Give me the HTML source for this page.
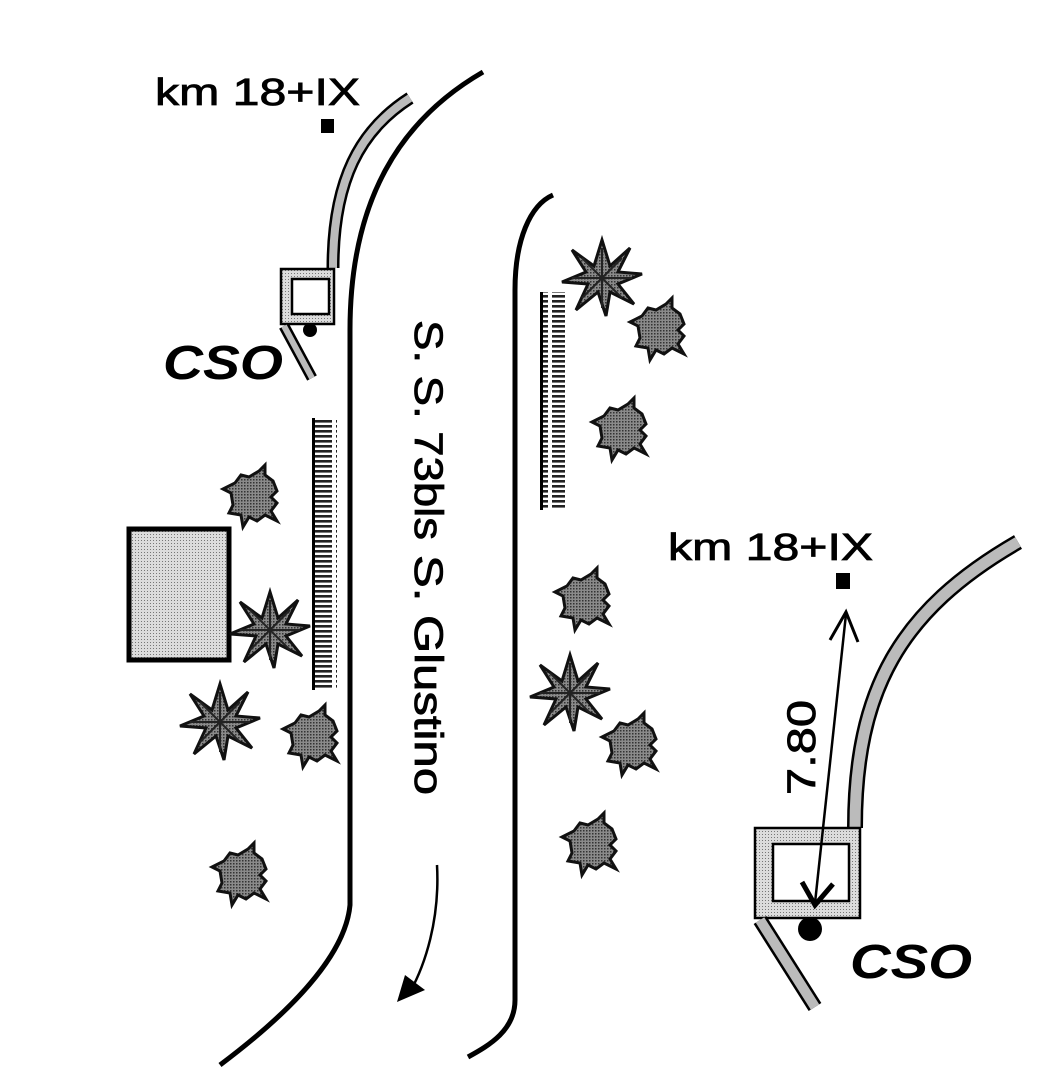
<!DOCTYPE html>
<html><head><meta charset="utf-8"><style>
html,body{margin:0;padding:0;background:#fff;}
svg{display:block;}
text{font-family:"Liberation Sans",sans-serif;}
</style></head><body>
<svg width="1060" height="1068" viewBox="0 0 1060 1068" xmlns="http://www.w3.org/2000/svg">
<defs>
<pattern id="dots" width="3" height="3" patternUnits="userSpaceOnUse"><rect width="3" height="3" fill="#dcdcdc"/><rect width="1" height="1" fill="#777"/></pattern>
<pattern id="dk" width="3" height="3" patternUnits="userSpaceOnUse"><rect width="3" height="3" fill="#8a8a8a"/><rect width="1.5" height="1.5" fill="#333"/></pattern>
<pattern id="fence" width="24" height="5" patternUnits="userSpaceOnUse"><rect width="24" height="5" fill="#fff"/><rect x="0" y="0" width="20" height="2.6" fill="#222"/></pattern>
<g id="shrub"><path d="M-22,-4 L-30,-8 L-18,-14 L-12,-22 L-4,-20 L6,-26 L12,-32 L12,-22 L20,-16 L24,-6 L18,0 L24,6 L18,14 L24,24 L12,18 L4,24 L-4,20 L-10,30 L-12,18 L-24,16 L-20,8 Z" fill="url(#dk)" stroke="#111" stroke-width="3"/></g>
<g id="palm"><path d="M0,-38 L8,-12 L28,-30 L16,-6 L40,-4 L16,6 L32,26 L8,14 L4,38 L-4,14 L-26,32 L-14,6 L-40,4 L-16,-6 L-30,-28 L-8,-12 Z" fill="url(#dk)" stroke="#111" stroke-width="3"/><path d="M0,-30 L0,30 M-30,0 L30,0 M-20,-20 L20,20 M20,-20 L-20,20" stroke="#222" stroke-width="2"/></g>
</defs>

<path d="M483,72 C400,120 350,200 350,330 L350,905 C345,960 280,1020 220,1065" fill="none" stroke="#000" stroke-width="5"/>
<path d="M553,195 C530,205 515,240 515,290 L515,1000 C515,1030 490,1045 468,1057" fill="none" stroke="#000" stroke-width="5"/>

<text transform="translate(415,320) rotate(90)" font-size="40" fill="#000" stroke="#000" stroke-width="0.8" textLength="220" lengthAdjust="spacingAndGlyphs">S. S. 73bls</text>
<text transform="translate(415,555) rotate(90)" font-size="40" fill="#000" stroke="#000" stroke-width="0.8" textLength="240" lengthAdjust="spacingAndGlyphs">S. Glustino</text>
<path d="M437,865 C440,920 425,965 410,992" fill="none" stroke="#000" stroke-width="2.5"/>
<path d="M397,1002 L425,990 L405,975 Z" fill="#000"/>

<text x="155" y="105" font-size="38" fill="#000" stroke="#000" stroke-width="0.8" textLength="205" lengthAdjust="spacingAndGlyphs">km 18+IX</text>
<rect x="321" y="119" width="13" height="14" fill="#000"/>
<path d="M410,98 C360,130 333,180 333,268" fill="none" stroke="#000" stroke-width="13"/>
<path d="M410,98 C360,130 333,180 333,268" fill="none" stroke="#bbb" stroke-width="8"/>
<rect x="281" y="269" width="53" height="55" fill="url(#dots)" stroke="#000" stroke-width="2.5"/>
<rect x="292" y="279" width="37" height="35" fill="#fff" stroke="#000" stroke-width="2.5"/>
<path d="M284,326 L312,378" stroke="#000" stroke-width="11"/>
<path d="M284,326 L312,378" stroke="#bbb" stroke-width="6"/>
<circle cx="310" cy="330" r="7" fill="#000"/>
<text x="163" y="379" font-size="48" font-weight="bold" font-style="italic" fill="#000" textLength="120" lengthAdjust="spacingAndGlyphs">CSO</text>

<rect x="313" y="418" width="24" height="272" fill="url(#fence)"/>
<rect x="312" y="418" width="3" height="272" fill="#000"/>
<rect x="541" y="292" width="24" height="218" fill="url(#fence)"/>
<rect x="540" y="292" width="3" height="218" fill="#000"/>

<rect x="129" y="529" width="100" height="131" fill="url(#dots)" stroke="#000" stroke-width="5"/>

<use href="#shrub" x="253" y="497"/>
<use href="#palm" x="270" y="630"/>
<use href="#palm" x="220" y="722"/>
<use href="#shrub" x="313" y="737"/>
<use href="#shrub" x="242" y="875"/>
<use href="#palm" x="602" y="278"/>
<use href="#shrub" x="660" y="330"/>
<use href="#shrub" x="622" y="430"/>
<use href="#shrub" x="585" y="600"/>
<use href="#palm" x="570" y="693"/>
<use href="#shrub" x="632" y="745"/>
<use href="#shrub" x="592" y="845"/>

<text x="668" y="560" font-size="38" fill="#000" stroke="#000" stroke-width="0.8" textLength="205" lengthAdjust="spacingAndGlyphs">km 18+IX</text>
<rect x="836" y="573" width="14" height="16" fill="#000"/>
<path d="M1018,542 C900,610 855,690 855,828" fill="none" stroke="#000" stroke-width="16"/>
<path d="M1018,542 C900,610 855,690 855,828" fill="none" stroke="#bbb" stroke-width="11"/>
<rect x="755" y="828" width="105" height="90" fill="url(#dots)" stroke="#000" stroke-width="2.5"/>
<rect x="773" y="844" width="76" height="57" fill="#fff" stroke="#000" stroke-width="2.5"/>
<path d="M760,920 L815,1007" stroke="#000" stroke-width="15"/>
<path d="M760,920 L815,1007" stroke="#bbb" stroke-width="10"/>
<circle cx="810" cy="929" r="12" fill="#000"/>
<text x="850" y="978" font-size="48" font-weight="bold" font-style="italic" fill="#000" textLength="122" lengthAdjust="spacingAndGlyphs">CSO</text>
<line x1="846" y1="614" x2="815" y2="903" stroke="#000" stroke-width="2.5"/>
<path d="M830,640 L846,612 L858,642" fill="none" stroke="#000" stroke-width="3"/>
<path d="M802,882 L815,905 L833,884" fill="none" stroke="#000" stroke-width="5"/>
<text transform="translate(815,795) rotate(-90)" font-size="40" fill="#000" stroke="#000" stroke-width="0.8" textLength="95" lengthAdjust="spacingAndGlyphs">7.80</text>
</svg>
</body></html>
